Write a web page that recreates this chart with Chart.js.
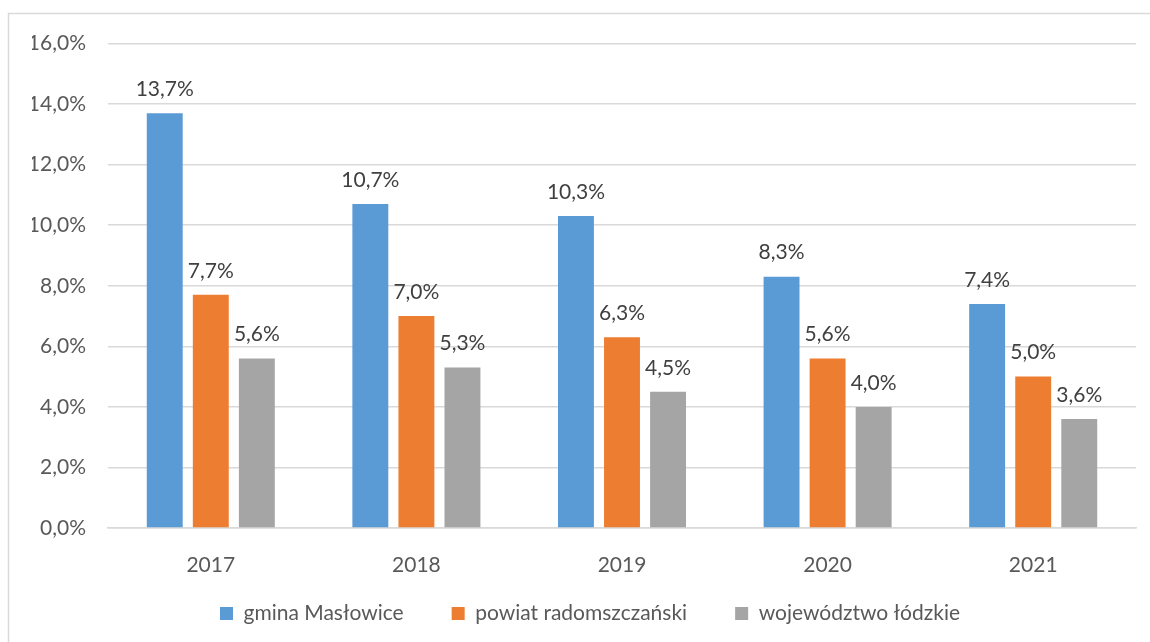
<!DOCTYPE html>
<html lang="pl">
<head>
<meta charset="utf-8">
<title>Stopa bezrobocia</title>
<script src="https://cdn.jsdelivr.net/npm/chart.js@4.4.1/dist/chart.umd.min.js"></script>
<style>
  html, body { margin: 0; padding: 0; background: #ffffff; }
  #wrap { width: 1150px; height: 642px; }
</style>
</head>
<body>
<div id="wrap"><canvas id="myChart" width="1150" height="642"></canvas></div>
<script>
// data
const years = ["2017", "2018", "2019", "2020", "2021"];
const gminaValues = [13.7, 10.7, 10.3, 8.3, 7.4];
const powiatValues = [7.7, 7.0, 6.3, 5.6, 5.0];
const wojewodztwoValues = [5.6, 5.3, 4.5, 4.0, 3.6];
const seriesNames = ["gmina Masłowice", "powiat radomszczański", "województwo łódzkie"];
const yTicks = [0, 2, 4, 6, 8, 10, 12, 14, 16];

const fontFamily = "Lato, 'Liberation Sans', Arial, sans-serif";
const axisColor = "#595959";
const labelColor = "#404040";
const lineColor = "#d9d9d9";

function formatPct(value) {
  return value.toFixed(1).replace(".", ",") + "%";
}

// thin grey frame around the chart (cut off on the right and bottom)
const framePlugin = {
  id: "frame",
  beforeDraw(chart) {
    const c = chart.ctx;
    c.save();
    c.strokeStyle = lineColor;
    c.lineWidth = 1.5;
    c.strokeRect(8.5, 13.5, 1300, 800);
    c.restore();
  },
};

// value labels above every bar
const valueLabels = {
  id: "valueLabels",
  afterDatasetsDraw(chart) {
    const c = chart.ctx;
    c.save();
    c.font = "21px " + fontFamily;
    c.fillStyle = labelColor;
    c.textAlign = "center";
    c.textBaseline = "middle";
    chart.data.datasets.forEach((ds, i) => {
      const meta = chart.getDatasetMeta(i);
      meta.data.forEach((bar, j) => {
        c.fillText(formatPct(ds.data[j]), bar.x, bar.y - 24);
      });
    });
    c.restore();
  },
};

// legend sits a bit right of the middle and higher up in the original
const legendShift = {
  id: "legendShift",
  afterLayout(chart) {
    const lg = chart.legend;
    lg.left += 6;
    lg.right += 6;
    lg.top -= 23;
    lg.bottom -= 23;
  },
};

const ctx = document.getElementById("myChart").getContext("2d");

const myChart = new Chart(ctx, {
  type: "bar",
  data: {
    labels: years,
    datasets: [
      {
        label: seriesNames[0],
        data: gminaValues,
        backgroundColor: "#5b9bd5",
      },
      {
        label: seriesNames[1],
        data: powiatValues,
        backgroundColor: "#ed7d31",
      },
      {
        label: seriesNames[2],
        data: wojewodztwoValues,
        backgroundColor: "#a5a5a5",
      },
    ],
  },
  options: {
    responsive: false,
    animation: false,
    devicePixelRatio: 1,
    categoryPercentage: 0.672,
    barPercentage: 0.78,
    layout: {
      padding: { left: 32, right: 14, top: 43.5, bottom: -15 },
    },
    plugins: {
      tooltip: { enabled: false },
      legend: {
        position: "bottom",
        labels: {
          boxWidth: 13,
          boxHeight: 13,
          padding: 48,
          color: axisColor,
          font: { family: fontFamily, size: 21 },
        },
      },
    },
    scales: {
      x: {
        grid: { display: false },
        border: { display: true, color: lineColor, width: 1.5 },
        ticks: {
          color: axisColor,
          padding: 17,
          font: { family: fontFamily, size: 21 },
        },
        afterFit(scale) {
          scale.height = 50;
        },
      },
      y: {
        min: 0,
        max: 16,
        afterBuildTicks(scale) {
          scale.ticks = yTicks.map((v) => ({ value: v }));
        },
        grid: {
          color: lineColor,
          lineWidth: 1.5,
          drawTicks: false,
        },
        border: { display: false },
        ticks: {
          color: axisColor,
          padding: 22,
          font: { family: fontFamily, size: 21 },
          callback: function (value) {
            return formatPct(value);
          },
        },
        afterFit(scale) {
          scale.width = 76;
        },
      },
    },
  },
  plugins: [framePlugin, valueLabels, legendShift],
});
</script>
</body>
</html>
